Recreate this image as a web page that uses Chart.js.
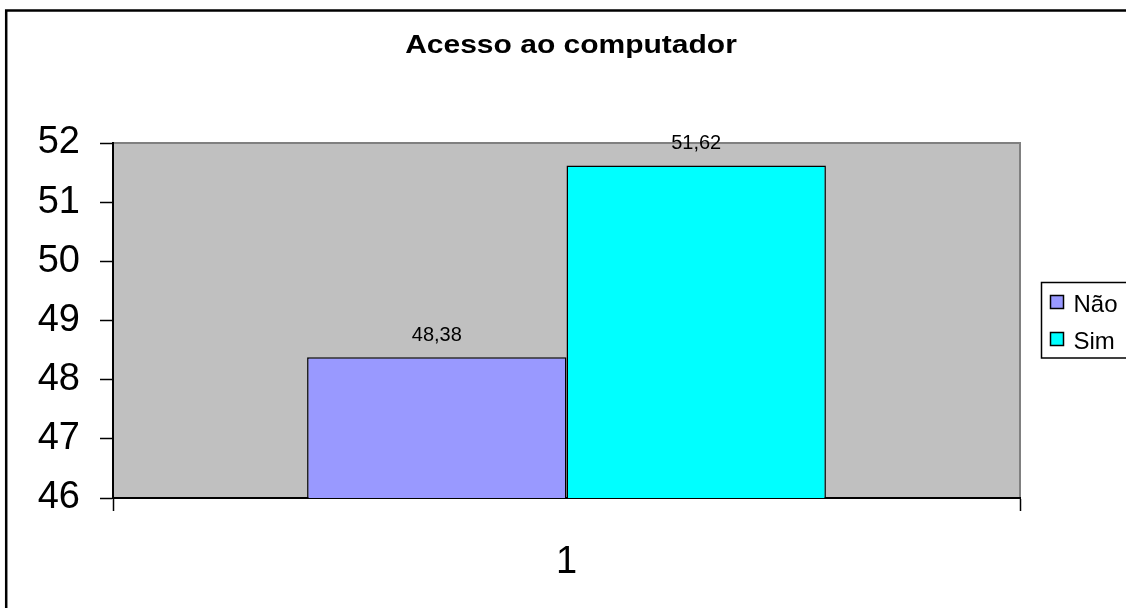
<!DOCTYPE html>
<html>
<head>
<meta charset="utf-8">
<script src="https://cdn.jsdelivr.net/npm/chart.js@4/dist/chart.umd.min.js"></script>
<style>
  html, body { margin: 0; padding: 0; background: #fff; }
  #wrap { width: 1126px; height: 608px; position: relative; }
</style>
</head>
<body>
<div id="wrap"><canvas id="grafico"></canvas></div>
<script>
const titulo = "Acesso ao computador";
const categorias = ["1"];
const nao = [48.38];
const sim = [51.62];
const serieNomes = ["Não", "Sim"];
const serieCores = ["#9999FF", "#00FFFF"];
const yTicks = [46, 47, 48, 49, 50, 51, 52];

const FONTE = "Arial, 'Liberation Sans', sans-serif";

// fundo cinza da área do gráfico, moldura externa e título
const fundoPlot = {
  id: "fundoPlot",
  beforeDraw(chart) {
    const { ctx, chartArea: a } = chart;
    ctx.save();
    ctx.strokeStyle = "#000";
    ctx.lineWidth = 2.5;
    ctx.beginPath();
    ctx.moveTo(6.2, chart.height + 5);
    ctx.lineTo(6.2, 10.5);
    ctx.lineTo(chart.width + 5, 10.5);
    ctx.stroke();

    ctx.fillStyle = "#C0C0C0";
    ctx.fillRect(a.left, a.top, a.right - a.left, a.bottom - a.top);
    ctx.strokeStyle = "#808080";
    ctx.lineWidth = 2;
    ctx.beginPath();
    ctx.moveTo(a.left, a.top);
    ctx.lineTo(a.right, a.top);
    ctx.lineTo(a.right, a.bottom);
    ctx.stroke();

    // título largo, centrado sobre a área do gráfico
    ctx.fillStyle = "#000";
    ctx.font = "bold 25px " + FONTE;
    ctx.textAlign = "center";
    ctx.textBaseline = "alphabetic";
    ctx.translate(571, 53);
    ctx.scale(1.2, 1);
    ctx.fillText(titulo, 0, 0);
    ctx.restore();
  }
};

// rótulos de valor acima das barras (vírgula decimal)
const rotulosValor = {
  id: "rotulosValor",
  afterDatasetsDraw(chart) {
    const { ctx } = chart;
    ctx.save();
    ctx.font = "20px " + FONTE;
    ctx.fillStyle = "#000";
    ctx.textAlign = "center";
    ctx.textBaseline = "middle";
    chart.data.datasets.forEach((ds, i) => {
      chart.getDatasetMeta(i).data.forEach((bar, j) => {
        const txt = ds.data[j].toFixed(2).replace(".", ",");
        ctx.fillText(txt, bar.x, bar.y - 22);
      });
    });
    ctx.restore();
  }
};

// legenda em caixa à direita
const legendaCaixa = {
  id: "legendaCaixa",
  afterDraw(chart) {
    const { ctx } = chart;
    const x = 1041.5, y = 282.5, w = 100, h = 75.5;
    ctx.save();
    ctx.fillStyle = "#fff";
    ctx.fillRect(x, y, w, h);
    ctx.strokeStyle = "#000";
    ctx.lineWidth = 1.5;
    ctx.strokeRect(x, y, w, h);
    ctx.font = "24px " + FONTE;
    ctx.textBaseline = "middle";
    chart.data.datasets.forEach((ds, i) => {
      const my = 295.5 + i * 37;
      ctx.fillStyle = ds.backgroundColor;
      ctx.fillRect(x + 9, my, 13, 13);
      ctx.strokeRect(x + 9, my, 13, 13);
      ctx.fillStyle = "#000";
      ctx.fillText(ds.label, x + 32, my + 10);
    });
    ctx.restore();
  }
};

new Chart(document.getElementById("grafico"), {
  type: "bar",
  data: {
    labels: categorias,
    datasets: [
      { label: serieNomes[0], data: nao, backgroundColor: serieCores[0], borderColor: "#000", borderWidth: 1.5 },
      { label: serieNomes[1], data: sim, backgroundColor: serieCores[1], borderColor: "#000", borderWidth: 1.5 }
    ]
  },
  options: {
    responsive: true,
    maintainAspectRatio: false,
    animation: false,
    layout: { padding: { left: 0, right: 106, top: 143, bottom: 0 } },
    datasets: { bar: { categoryPercentage: 0.572, barPercentage: 1 } },
    plugins: {
      legend: { display: false },
      tooltip: { enabled: false },
      title: { display: false }
    },
    scales: {
      x: {
        afterFit(s) { s.height = 110; },
        grid: { offset: true, drawOnChartArea: false, tickLength: 13, tickColor: "#000", tickWidth: 1.5 },
        border: { color: "#000", width: 2 },
        ticks: { color: "#000", padding: 29, font: { family: FONTE, size: 38 } }
      },
      y: {
        min: 46,
        max: 52,
        afterFit(s) { s.width = 113; },
        afterBuildTicks(s) { s.ticks = yTicks.map(v => ({ value: v })); },
        grid: { drawOnChartArea: false, tickLength: 13, tickColor: "#000", tickWidth: 1.5 },
        border: { color: "#000", width: 2 },
        ticks: { color: "#000", padding: 20, font: { family: FONTE, size: 38 } }
      }
    }
  },
  plugins: [fundoPlot, rotulosValor, legendaCaixa]
});
</script>
</body>
</html>
